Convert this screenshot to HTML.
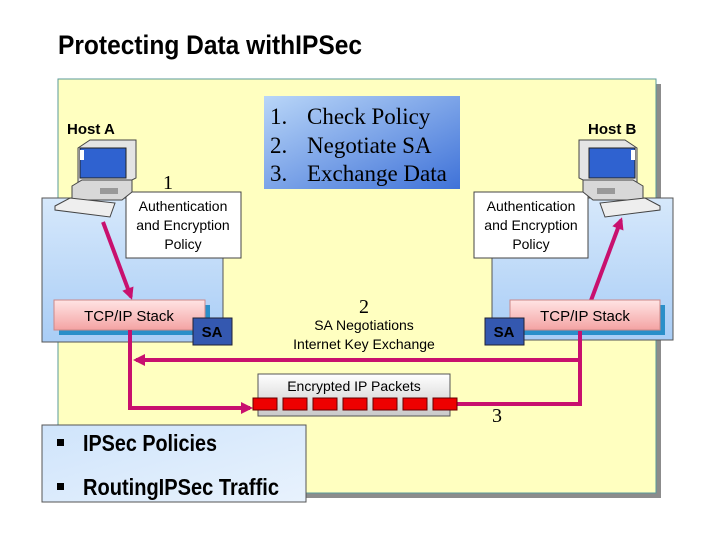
<!DOCTYPE html>
<html><head><meta charset="utf-8"><style>
html,body{margin:0;padding:0;background:#fff;}
svg{display:block;font-family:"Liberation Sans",sans-serif;}
</style></head><body>
<svg width="720" height="540" viewBox="0 0 720 540" xmlns="http://www.w3.org/2000/svg">
<defs>
<linearGradient id="bl" x1="0" y1="0" x2="0" y2="1"><stop offset="0" stop-color="#d6e8fb"/><stop offset="1" stop-color="#a9cdf6"/></linearGradient>
<linearGradient id="pol" x1="0" y1="0" x2="1" y2="1"><stop offset="0" stop-color="#b9d6f8"/><stop offset="1" stop-color="#3f72d8"/></linearGradient>
<linearGradient id="tcp" x1="0" y1="0" x2="0" y2="1"><stop offset="0" stop-color="#ffe4e4"/><stop offset="1" stop-color="#f4a3a3"/></linearGradient>
<linearGradient id="pk" x1="0" y1="0" x2="0" y2="1"><stop offset="0" stop-color="#ffffff"/><stop offset="1" stop-color="#c9c9c9"/></linearGradient>
<linearGradient id="bul" x1="0" y1="0" x2="1" y2="1"><stop offset="0" stop-color="#cfe4fb"/><stop offset="1" stop-color="#e8f2fd"/></linearGradient>
<marker id="ah" markerWidth="12" markerHeight="12" refX="9" refY="6" orient="auto" markerUnits="userSpaceOnUse"><path d="M0,0 L12,6 L0,12 z" fill="#c8106e"/></marker>
<g id="pc">
<path d="M78,148 L90,140 L136,140 L136,178 L128,182 L78,182 z" fill="#e4e4e4" stroke="#444"/>
<rect x="80" y="148" width="46" height="30" fill="#2f62d0" stroke="#222"/>
<rect x="80" y="150" width="4" height="10" fill="#fff"/>
<path d="M72,186 L82,180 L132,180 L132,192 L122,200 L72,200 z" fill="#d8d8d8" stroke="#444"/>
<rect x="100" y="188" width="18" height="6" fill="#999"/>
<path d="M55,206 L70,198 L115,203 L110,217 L55,210 z" fill="#eee" stroke="#444"/>
</g>
</defs>
<text x="58" y="54" font-size="27" font-weight="bold" textLength="304" lengthAdjust="spacingAndGlyphs">Protecting Data withIPSec</text>
<rect x="63" y="84" width="598" height="414" fill="#8c8c8c"/>
<rect x="58" y="79" width="598" height="414" fill="#ffffc0" stroke="#5a9a9a" stroke-width="1"/>
<rect x="42" y="198" width="181" height="144" fill="url(#bl)" stroke="#555" stroke-width="1"/>
<rect x="492" y="198" width="181" height="142" fill="url(#bl)" stroke="#555" stroke-width="1"/>
<rect x="264" y="96" width="196" height="93" fill="url(#pol)"/>
<g font-family="Liberation Serif,serif" font-size="23">
<text x="270" y="124">1.</text><text x="307" y="124">Check Policy</text>
<text x="270" y="153">2.</text><text x="307" y="153">Negotiate SA</text>
<text x="270" y="181">3.</text><text x="307" y="181">Exchange Data</text>
</g>
<text x="67" y="134" font-size="15" font-weight="bold">Host A</text>
<text x="588" y="134" font-size="15" font-weight="bold">Host B</text>
<text x="163" y="189" font-family="Liberation Serif,serif" font-size="20">1</text>
<rect x="126" y="192" width="115" height="66" fill="#fff" stroke="#444"/>
<g font-size="14" text-anchor="middle"><text x="183" y="211">Authentication</text><text x="183" y="230">and Encryption</text><text x="183" y="249">Policy</text></g>
<rect x="474" y="192" width="114" height="66" fill="#fff" stroke="#444"/>
<g font-size="14" text-anchor="middle"><text x="531" y="211">Authentication</text><text x="531" y="230">and Encryption</text><text x="531" y="249">Policy</text></g>
<use href="#pc"/>
<g transform="translate(715,0) scale(-1,1)"><use href="#pc"/></g>
<g stroke="#c8106e" stroke-width="4" fill="none">
<line x1="103" y1="222" x2="131" y2="297" marker-end="url(#ah)"/>
<line x1="580" y1="330" x2="621" y2="220" marker-end="url(#ah)"/>
</g>
<rect x="59" y="305" width="151" height="30" fill="#2a8fc9"/>
<rect x="54" y="300" width="151" height="30" fill="url(#tcp)" stroke="#c88"/>
<text x="129" y="321" font-size="15" text-anchor="middle">TCP/IP Stack</text>
<rect x="193" y="318" width="39" height="27" fill="#3458b0" stroke="#223"/>
<text x="212" y="337" font-size="15" font-weight="bold" text-anchor="middle" fill="#000">SA</text>
<rect x="515" y="305" width="150" height="30" fill="#2a8fc9"/>
<rect x="510" y="300" width="150" height="30" fill="url(#tcp)" stroke="#c88"/>
<text x="585" y="321" font-size="15" text-anchor="middle">TCP/IP Stack</text>
<rect x="485" y="318" width="39" height="27" fill="#3458b0" stroke="#223"/>
<text x="504" y="337" font-size="15" font-weight="bold" text-anchor="middle">SA</text>
<text x="364" y="313" font-family="Liberation Serif,serif" font-size="20" text-anchor="middle">2</text>
<text x="364" y="330" font-size="14" text-anchor="middle">SA Negotiations</text>
<text x="364" y="349" font-size="14" text-anchor="middle">Internet Key Exchange</text>
<g stroke="#c8106e" stroke-width="4" fill="none">
<line x1="130" y1="330" x2="130" y2="408"/>
<line x1="128" y1="408" x2="250" y2="408" marker-end="url(#ah)"/>
<line x1="582" y1="360" x2="136" y2="360" marker-end="url(#ah)"/>
<line x1="580" y1="331" x2="580" y2="406"/>
<line x1="582" y1="404" x2="450" y2="404"/>
</g>
<rect x="258" y="374" width="192" height="42" fill="url(#pk)" stroke="#555"/>
<text x="354" y="391" font-size="14" text-anchor="middle">Encrypted IP Packets</text>
<g fill="#ee0000" stroke="#600">
<rect x="253" y="398" width="24" height="12"/><rect x="283" y="398" width="24" height="12"/><rect x="313" y="398" width="24" height="12"/><rect x="343" y="398" width="24" height="12"/><rect x="373" y="398" width="24" height="12"/><rect x="403" y="398" width="24" height="12"/><rect x="433" y="398" width="24" height="12"/>
</g>
<text x="492" y="422" font-family="Liberation Serif,serif" font-size="20">3</text>
<rect x="42" y="425" width="264" height="77" fill="url(#bul)" stroke="#555"/>
<rect x="57" y="439" width="7" height="7" fill="#000"/>
<rect x="57" y="483" width="7" height="7" fill="#000"/>
<text x="83" y="451" font-size="23" font-weight="bold" textLength="134" lengthAdjust="spacingAndGlyphs">IPSec Policies</text>
<text x="83" y="495" font-size="23" font-weight="bold" textLength="196" lengthAdjust="spacingAndGlyphs">RoutingIPSec Traffic</text>
</svg>
</body></html>
